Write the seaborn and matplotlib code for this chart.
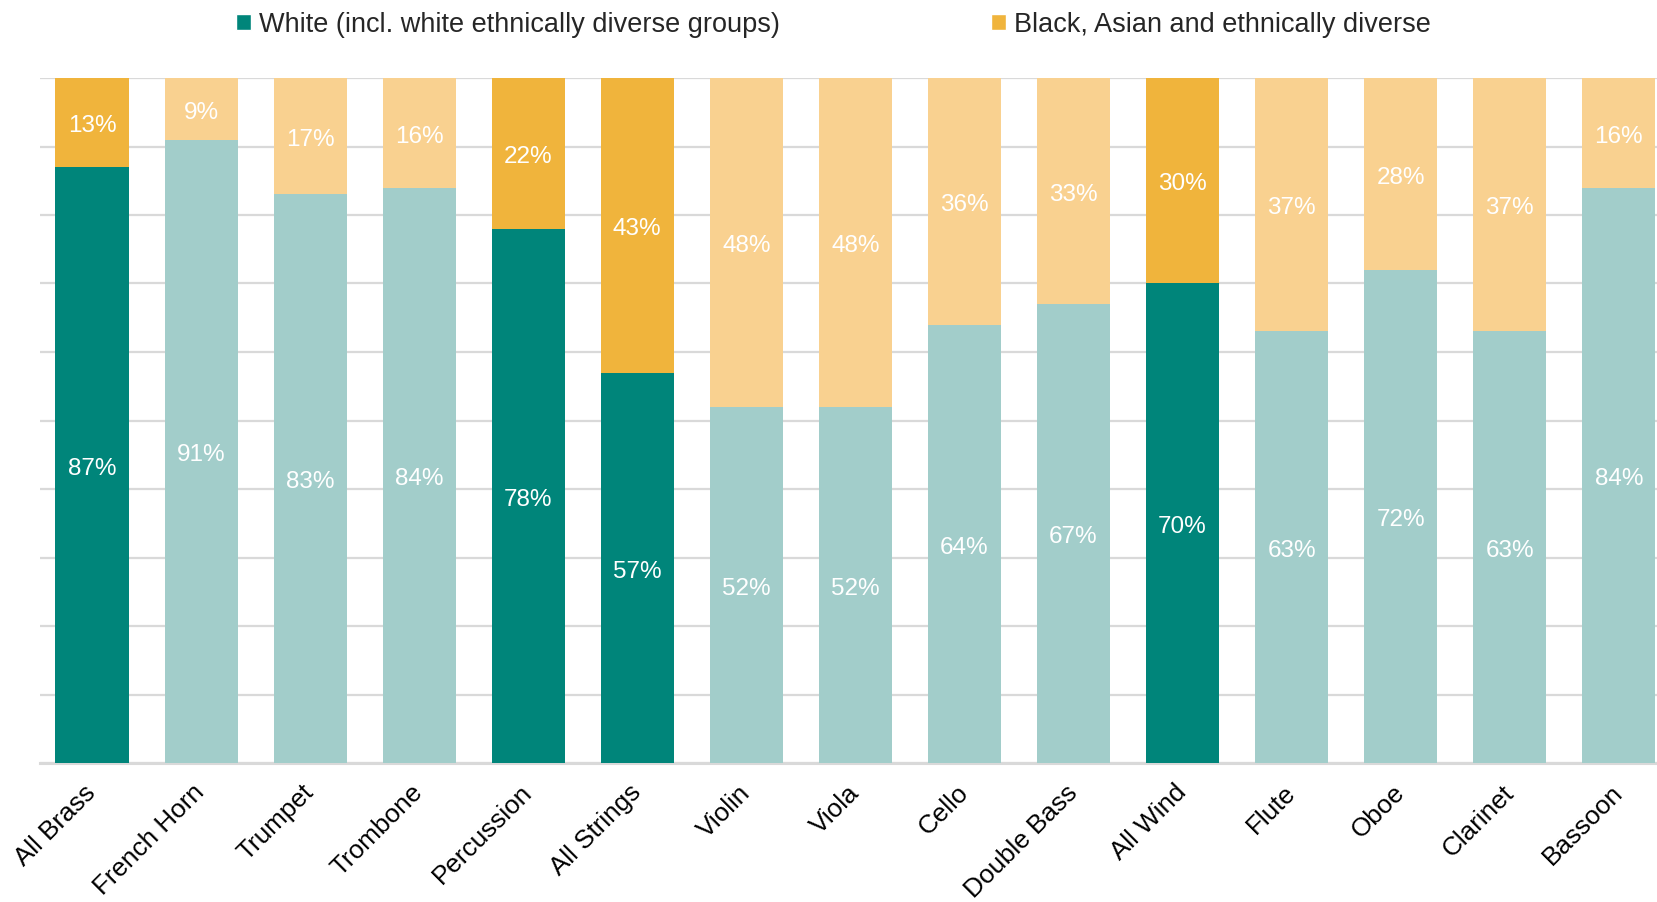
import matplotlib
matplotlib.use("Agg")
import matplotlib.pyplot as plt
from matplotlib.patches import Patch
import seaborn as sns
import pandas as pd

# Orchestra section make-up by ethnicity (%)
instruments = ["All Brass", "French Horn", "Trumpet", "Trombone", "Percussion",
               "All Strings", "Violin", "Viola", "Cello", "Double Bass",
               "All Wind", "Flute", "Oboe", "Clarinet", "Bassoon"]
white_pct = [87, 91, 83, 84, 78, 57, 52, 52, 64, 67, 70, 63, 72, 63, 84]
diverse_pct = [13, 9, 17, 16, 22, 43, 48, 48, 36, 33, 30, 37, 28, 37, 16]
group_totals = ["All Brass", "Percussion", "All Strings", "All Wind"]

legend_labels = ["White (incl. white ethnically diverse groups)",
                 "Black, Asian and ethnically diverse"]

TEAL_DARK, TEAL_LIGHT = "#00857A", "#A2CDCA"
GOLD_DARK, GOLD_LIGHT = "#F0B43C", "#F9D190"

sns.set_theme(style="white")
plt.rcParams["font.family"] = ["Liberation Sans", "DejaVu Sans"]

df = pd.DataFrame({"instrument": instruments,
                   "white": white_pct,
                   "diverse": diverse_pct})
df["total"] = df["white"] + df["diverse"]

is_total = [name in group_totals for name in instruments]
gold_pal = {n: (GOLD_DARK if t else GOLD_LIGHT) for n, t in zip(instruments, is_total)}
teal_pal = {n: (TEAL_DARK if t else TEAL_LIGHT) for n, t in zip(instruments, is_total)}

fig = plt.figure(figsize=(16.57, 9.03), dpi=100)
ax = fig.add_axes([40 / 1657, 1 - 764 / 903, 1 - 40 / 1657, (764 - 79) / 903])

# stacked bars: full height in gold, white share overlaid in teal
sns.barplot(data=df, x="instrument", y="total", hue="instrument", palette=gold_pal,
            width=0.67, legend=False, ax=ax, saturation=1, zorder=2, linewidth=0)
sns.barplot(data=df, x="instrument", y="white", hue="instrument", palette=teal_pal,
            width=0.67, legend=False, ax=ax, saturation=1, zorder=3, linewidth=0)

for i, (w, d) in enumerate(zip(white_pct, diverse_pct)):
    ax.text(i, w / 2 - 0.4, f"{w}%", ha="center", va="center", color="white",
            fontsize=17.5, zorder=5)
    ax.text(i, w + d / 2 - 0.4, f"{d}%", ha="center", va="center", color="white",
            fontsize=17.5, zorder=5)

ax.set_ylim(0, 100)
ax.set_xlim(-0.477, 14.35)
ax.set_yticks(range(0, 101, 10))
ax.set_yticklabels([])
ax.tick_params(axis="y", length=0)
ax.yaxis.grid(True, color="#D9D9D9", linewidth=1.6, zorder=0)
ax.set_axisbelow(True)
for s in ["top", "right", "left"]:
    ax.spines[s].set_visible(False)
ax.spines["bottom"].set_color("#D9D9D9")
ax.spines["bottom"].set_linewidth(2.2)
ax.set_xlabel("")
ax.set_ylabel("")
ax.tick_params(axis="x", length=0, pad=18)
ax.set_xticks(range(len(instruments)))
ax.set_xticklabels(instruments, rotation=45, ha="right", va="center",
                   rotation_mode="anchor", fontsize=18.8, color="black")

handles = [Patch(facecolor=TEAL_DARK), Patch(facecolor=GOLD_DARK)]
fig.legend(handles, legend_labels, loc="center", bbox_to_anchor=(0.503, 0.972),
           ncol=2, frameon=False, fontsize=19.5, handlelength=0.55, handleheight=0.55,
           handletextpad=0.3, columnspacing=7.8)

fig.savefig("out.png", dpi=100)
